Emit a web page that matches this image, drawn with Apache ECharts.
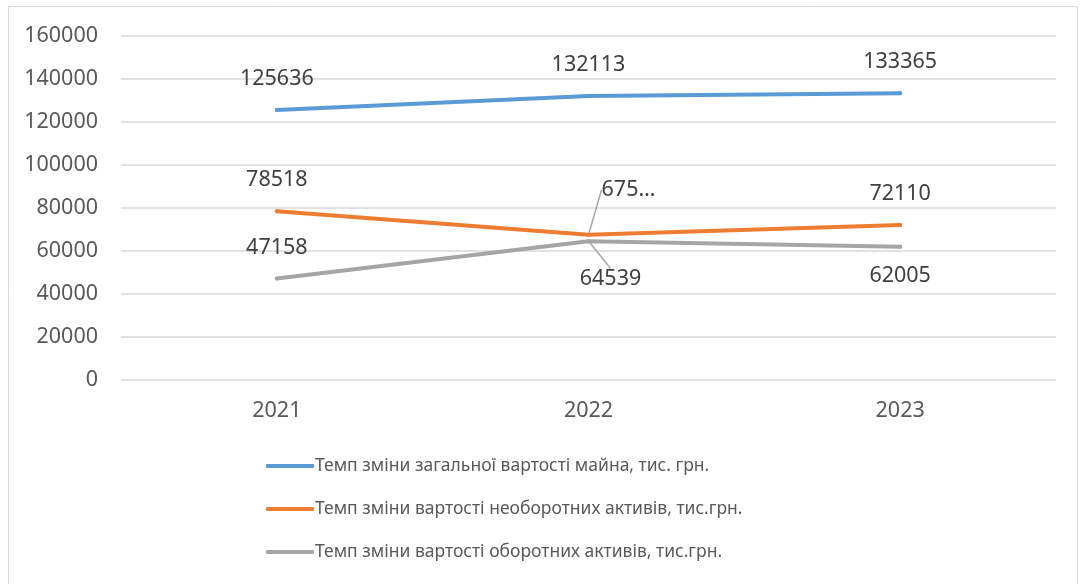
<!DOCTYPE html>
<html>
<head>
<meta charset="utf-8">
<script src="https://cdn.jsdelivr.net/npm/echarts@6/dist/echarts.min.js"></script>
<style>
html, body { margin: 0; padding: 0; background: #fff; }
#main { width: 1084px; height: 584px; }
</style>
</head>
<body>
<div id="main"></div>
<script>
// 数据
var years = ['2021', '2022', '2023'];
var totalAssets = [125636, 132113, 133365];
var nonCurrentAssets = [78518, 67520, 72110];
var currentAssets = [47158, 64539, 62005];
var seriesNames = [
	'Темп зміни загальної вартості майна, тис. грн.',
	'Темп зміни вартості необоротних активів, тис.грн.',
	'Темп зміни вартості оборотних активів, тис.грн.'
];
var colors = ['#5b9bd5', '#ed7d31', '#a5a5a5'];

var fontName = 'Noto Sans';
var numSize = 21.5;
var labelFont = { fontFamily: fontName, fontSize: numSize, color: '#404040' };

function makeSeries(index, data) {
	return {
		name: seriesNames[index],
		type: 'line',
		data: data,
		symbol: 'circle',
		symbolSize: 4,
		showSymbol: true,
		lineStyle: { width: 4, color: colors[index], cap: 'round' },
		itemStyle: { color: colors[index] },
		label: Object.assign({ show: true, position: 'top', distance: 18 }, labelFont),
		labelLine: { show: false, lineStyle: { color: '#a5a5a5', width: 1.5 } },
		z: 10 - index
	};
}

var myChart = echarts.init(document.getElementById('main'));

// 橙色线 2022 的标签被截断显示，并带引导线
var orangeData = nonCurrentAssets.map(function(v, i) {
	return i === 1 ? { value: v, label: { position: 'bottom', distance: 16 }, labelLine: { show: true } } : v;
});
// 灰色线 2022、2023 标签在下方
var grayData = currentAssets.map(function(v, i) {
	if (i === 0) return v;
	var item = { value: v, label: { position: 'bottom', distance: 16 } };
	if (i === 1) item.labelLine = { show: true };
	return item;
});

var series = [
	makeSeries(0, totalAssets),
	makeSeries(1, orangeData),
	makeSeries(2, grayData)
];
series[1].label.formatter = function(p) {
	var s = String(p.value);
	return p.dataIndex === 1 ? s.slice(0, 3) + '…' : s;
};
series[1].labelLayout = function(p) {
	return p.dataIndex === 1 ? { dx: 40, dy: -74 } : {};
};
series[2].labelLayout = function(p) {
	return p.dataIndex === 1 ? { dx: 22, dy: 9 } : {};
};

var option = {
	backgroundColor: '#ffffff',
	animation: false,
	graphic: [{
		type: 'rect',
		shape: { x: 8.5, y: 6.5, width: 1069, height: 600 },
		style: { fill: 'none', stroke: '#d9d9d9', lineWidth: 1 },
		silent: true
	}],
	grid: { left: 121, right: 28, top: 36, bottom: 204 },
	legend: {
		orient: 'vertical',
		left: 261,
		top: 452,
		icon: 'roundRect',
		itemWidth: 48,
		itemHeight: 4,
		itemGap: 25,
		textStyle: { fontFamily: fontName, fontSize: 17.5, color: '#595959', padding: [0, 0, 0, -4] },
		data: seriesNames
	},
	xAxis: {
		type: 'category',
		data: years,
		axisLine: { show: false },
		axisTick: { show: false },
		axisLabel: { fontFamily: fontName, fontSize: numSize, color: '#595959', margin: 20 }
	},
	yAxis: {
		type: 'value',
		min: 0,
		max: 160000,
		interval: 20000,
		axisLine: { show: false },
		axisTick: { show: false },
		splitLine: { lineStyle: { color: '#d9d9d9', width: 1.5 } },
		axisLabel: {
			fontFamily: fontName, fontSize: numSize, color: '#595959', margin: 23,
			formatter: function(v) { return String(v); }
		}
	},
	series: series
};

myChart.setOption(option);
</script>
</body>
</html>
